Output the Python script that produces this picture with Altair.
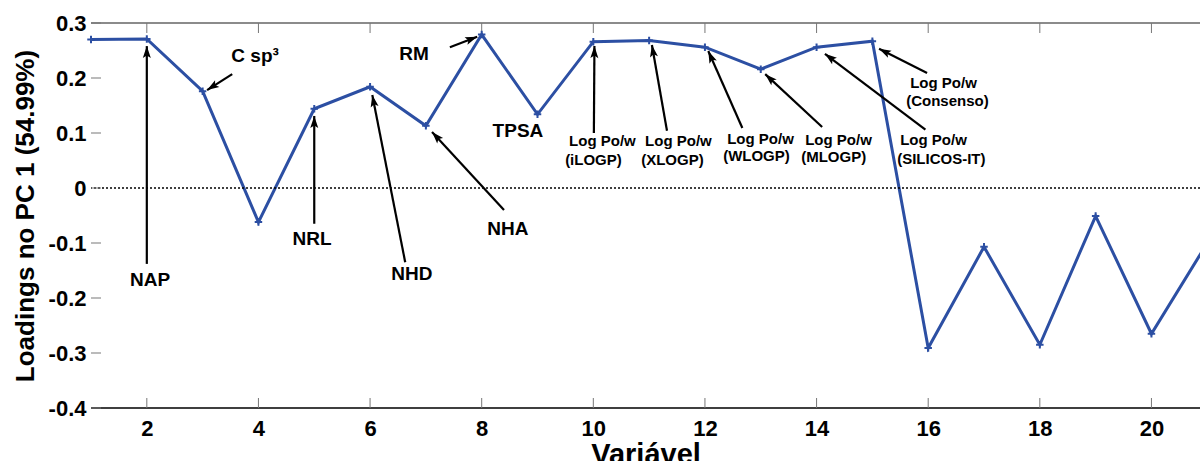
import math
import altair as alt
import pandas as pd

# PC1 loadings for each of the 21 descriptors
variavel = list(range(1, 22))
loadings = [0.270, 0.271, 0.176, -0.062, 0.144, 0.184, 0.113, 0.279, 0.134, 0.266,
            0.268, 0.256, 0.216, 0.256, 0.267, -0.291, -0.107, -0.285, -0.051, -0.265,
            -0.100]

# descriptor names (bold labels)
rotulos = ["NAP", "C sp³", "NRL", "NHD", "NHA", "RM", "TPSA"]
rotulo_x = [2.06, 3.94, 4.96, 6.75, 8.47, 6.79, 8.65]
rotulo_y = [-0.167, 0.240, -0.093, -0.156, -0.075, 0.244, 0.104]

# two-line logP labels (left aligned)
logp_texto = ["Log Po/w", "(iLOGP)", "Log Po/w", "(XLOGP)", "Log Po/w", "(WLOGP)",
              "Log Po/w", "(MLOGP)", "Log Po/w", "(SILICOS-IT)", "Log Po/w", "(Consenso)"]
logp_x = [9.566, 9.495, 10.928, 10.857, 12.398, 12.326, 13.796, 13.724,
          15.498, 15.444, 15.677, 15.606]
logp_y = [0.0855, 0.0518, 0.0855, 0.0518, 0.090, 0.0582, 0.0873, 0.0555,
          0.0873, 0.0536, 0.1918, 0.159]

# arrows: tail (x0, y0) -> head (x1, y1)
seta_x0 = [2.0, 3.53, 5.0, 6.63, 8.40, 7.43, 10.01, 11.32, 12.67, 14.10, 15.95, 15.98]
seta_y0 = [-0.138, 0.207, -0.065, -0.135, -0.040, 0.256, 0.100, 0.104, 0.109, 0.111, 0.106, 0.209]
seta_x1 = [2.0, 3.08, 5.0, 6.04, 7.11, 7.92, 10.02, 11.05, 12.06, 13.08, 14.15, 15.12]
seta_y1 = [0.258, 0.178, 0.131, 0.169, 0.102, 0.275, 0.258, 0.260, 0.249, 0.207, 0.244, 0.253]

x_ticks = list(range(2, 21, 2))
y_ticks = [-0.4, -0.3, -0.2, -0.1, 0.0, 0.1, 0.2, 0.3]

# layout
W, H = 1109, 385
X_MIN, X_MAX = 1.0, 20.87
Y_MIN, Y_MAX = -0.4, 0.3
px_x = W / (X_MAX - X_MIN)
px_y = H / (Y_MAX - Y_MIN)

BLUE = "#2c4fa3"
FONT = "Liberation Sans"
TICK = "#777777"

serie = pd.DataFrame({"variavel": variavel, "loading": loadings})
rot = pd.DataFrame({"x": rotulo_x, "y": rotulo_y, "t": rotulos})
logp = pd.DataFrame({"x": logp_x, "y": logp_y, "t": logp_texto})
tx = pd.DataFrame({"v": x_ticks, "topo": Y_MAX, "base": Y_MIN})
ty = pd.DataFrame({"v": y_ticks, "esq": X_MIN})
linhas_h = pd.DataFrame({"y": [Y_MAX, Y_MIN, 0.0], "tipo": ["topo", "base", "zero"]})

angulos = []
for a, b, c, d in zip(seta_x0, seta_y0, seta_x1, seta_y1):
    dx = (c - a) * px_x
    dy = -(d - b) * px_y
    angulos.append(math.degrees(math.atan2(dx, -dy)) % 360)
setas = pd.DataFrame({"x0": seta_x0, "y0": seta_y0, "x1": seta_x1, "y1": seta_y1,
                      "ang": angulos})

xs = alt.Scale(domain=[X_MIN, X_MAX], nice=False, zero=False)
ys = alt.Scale(domain=[Y_MIN, Y_MAX], nice=False, zero=False)

y_label_expr = ("datum.value == 0 ? '0' : (datum.value < 0 ? '-' + format(-datum.value, '.1f')"
                " : format(datum.value, '.1f'))")

eixo_x = alt.Axis(values=x_ticks, ticks=False, tickSize=0, domain=False, grid=False,
                  labelFont=FONT, labelFontWeight="bold", labelFontSize=22,
                  labelColor="black", labelPadding=10,
                  title="Variável", titleFont=FONT, titleFontWeight="bold",
                  titleFontSize=29, titleColor="black", titlePadding=1)
eixo_y = alt.Axis(values=y_ticks, ticks=False, tickSize=0, domain=False, grid=False,
                  labelFont=FONT, labelFontWeight="bold", labelFontSize=22,
                  labelColor="black", labelPadding=5, labelExpr=y_label_expr,
                  title="Loadings no PC 1 (54.99%)", titleFont=FONT,
                  titleFontWeight="bold", titleFontSize=26, titleColor="black",
                  titlePadding=10)


def X(campo):
    return alt.X(campo, scale=xs, axis=eixo_x)


def Y(campo):
    return alt.Y(campo, scale=ys, axis=eixo_y)


base = alt.Chart(serie)

linha = base.mark_line(color=BLUE, strokeWidth=3, clip=True).encode(
    x=X("variavel:Q"), y=Y("loading:Q"))
pontos = base.mark_point(shape="M-1,0L1,0M0,-1L0,1", filled=False, color=BLUE,
                         strokeWidth=2, size=56, opacity=1).encode(
    x=X("variavel:Q"), y=Y("loading:Q"),
).transform_filter(alt.datum.variavel <= 20)

# frame lines (top grey, bottom black) and dotted zero line
horizontais = alt.Chart(linhas_h).mark_rule().encode(
    y=Y("y:Q"),
    color=alt.Color("tipo:N", scale=alt.Scale(domain=["topo", "base", "zero"],
                                              range=["#666666", "black", "black"]),
                    legend=None),
    strokeWidth=alt.StrokeWidth("tipo:N", scale=alt.Scale(domain=["topo", "base", "zero"],
                                                          range=[1.5, 1.5, 1]),
                                legend=None),
    strokeDash=alt.StrokeDash("tipo:N", scale=alt.Scale(domain=["topo", "base", "zero"],
                                                        range=[[1, 0], [1, 0], [2, 2]]),
                              legend=None),
)

# inward tick marks on the frame
ticks_topo = alt.Chart(tx).mark_tick(orient="vertical", size=10, thickness=1, color=TICK,
                                     yOffset=5, opacity=1).encode(
    x=X("v:Q"), y=Y("topo:Q"))
ticks_base = alt.Chart(tx).mark_tick(orient="vertical", size=10, thickness=1, color=TICK,
                                     yOffset=-5, opacity=1).encode(
    x=X("v:Q"), y=Y("base:Q"))
ticks_esq = alt.Chart(ty).mark_tick(orient="horizontal", size=10, thickness=1, color=TICK,
                                    xOffset=5, opacity=1).encode(
    x=X("esq:Q"), y=Y("v:Q"))

hastes = alt.Chart(setas).mark_rule(color="black", strokeWidth=2.2).encode(
    x=X("x0:Q"), y=Y("y0:Q"), x2="x1:Q", y2="y1:Q")
pontas = alt.Chart(setas).mark_point(shape="M0,0L-0.8,2.4L0,1.9L0.8,2.4Z", filled=True,
                                     color="black", size=100, opacity=1,
                                     strokeWidth=0).encode(
    x=X("x1:Q"), y=Y("y1:Q"), angle=alt.Angle("ang:Q", scale=None))

textos = alt.Chart(rot).mark_text(font=FONT, fontWeight="bold", fontSize=19, color="black",
                                  align="center", baseline="middle").encode(
    x=X("x:Q"), y=Y("y:Q"), text="t:N")
textos_logp = alt.Chart(logp).mark_text(font=FONT, fontWeight="bold", fontSize=15,
                                        color="black", align="left",
                                        baseline="middle").encode(
    x=X("x:Q"), y=Y("y:Q"), text="t:N")

chart = alt.layer(
    linha, horizontais, ticks_topo, ticks_base, ticks_esq,
    hastes, pontos, pontas, textos, textos_logp
).resolve_scale(color="independent", strokeWidth="independent",
                strokeDash="independent").properties(
    width=W, height=H,
    autosize=alt.AutoSizeParams(type="none"),
    padding={"left": 91, "top": 23, "right": 0, "bottom": 53},
    background="white",
).configure_view(stroke=None)

chart.save("out.html", embed_options={"renderer": "svg", "actions": False})
